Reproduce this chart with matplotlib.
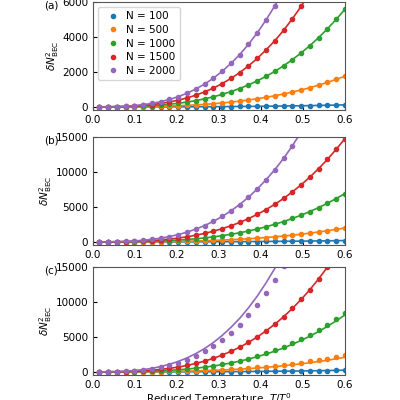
import matplotlib
matplotlib.use("Agg")
import matplotlib.pyplot as plt
import numpy as np

T = np.linspace(0.015, 0.6, 29)
shape = [6.8e-5,3.5e-4,1.04e-3,2.3e-3,4.4e-3,7.5e-3,0.0118,0.0177,0.0252,0.0347,0.0465,0.0608,0.0777,0.0976,0.121,0.148,0.178,0.213,0.252,0.296,0.344,0.398,0.458,0.523,0.594,0.672,0.757,0.849,0.947]
labels = ["N = 100","N = 500","N = 1000","N = 1500","N = 2000"]
colors = ["#1f77b4","#ff7f0e","#2ca02c","#d62728","#9467bd"]
amp_a = [120, 1850, 5900, 11000, 16800]
amp_b = [200, 2100, 7300, 15600, 30000]
amp_c = [250, 2500, 8900, 19800, 38000]
line_c = [250, 2200, 8600, 19800, 43000]
panels = [("(a)", amp_a, amp_a, 6000, [0,2000,4000,6000]),
          ("(b)", amp_b, amp_b, 15000, [0,5000,10000,15000]),
          ("(c)", amp_c, line_c, 15000, [0,5000,10000,15000])]
shape = np.array(shape)
fig = plt.figure(figsize=(4,4), dpi=100)
ys = [0.725, 0.3875, 0.0625]
H = 0.27
for i,(tag, amps, lamps, ymax, yt) in enumerate(panels):
    ax = fig.add_axes([0.2325, ys[i], 0.63, H])
    for a, la, c, l in zip(amps, lamps, colors, labels):
        ax.plot(T, la*shape, color=c, lw=1.2)
        ax.plot(T, a*shape, 'o', color=c, ms=3, label=l)
    ax.set_xlim(0, 0.6)
    ax.set_ylim(-ymax*0.03, ymax)
    ax.set_yticks(yt)
    ax.set_xticks(np.arange(0, 0.61, 0.1))
    ax.tick_params(labelsize=7.5, direction='in', length=3)
    for s in ax.spines.values():
        s.set_color('#555555')
    ax.set_ylabel(r"$\delta N^2_\mathrm{BEC}$", fontsize=7.5, labelpad=1)
    fig.text(0.11, ys[i]+H+0.003, tag, fontsize=7.5, va='top')
    if i == 0:
        ax.legend(fontsize=7.5, loc='upper left', handletextpad=0.3, borderpad=0.4, labelspacing=0.35)
    if i == 2:
        ax.set_xlabel(r"Reduced Temperature  $T/T_c^0$", fontsize=7.5, labelpad=1)
fig.savefig("out.png", dpi=100)
